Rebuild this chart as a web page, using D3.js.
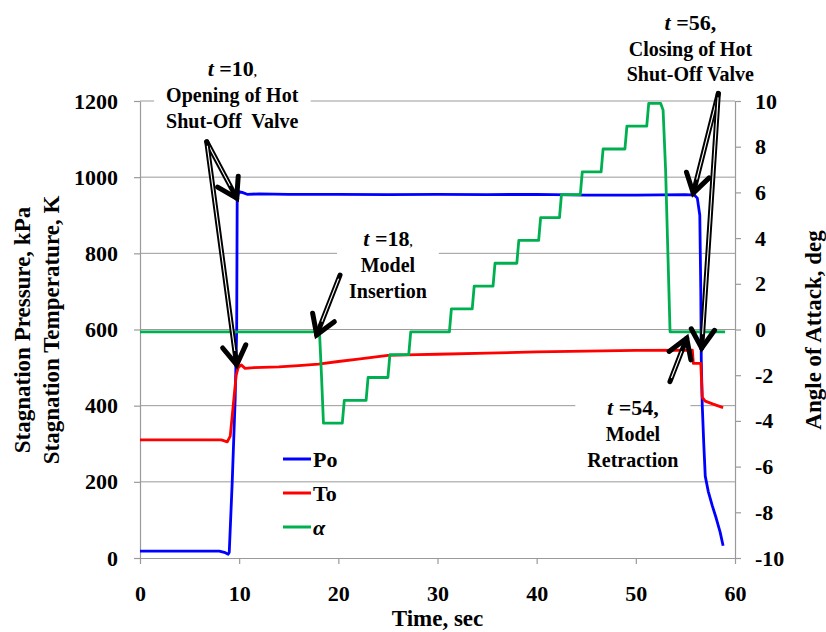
<!DOCTYPE html>
<html>
<head>
<meta charset="utf-8">
<script src="https://cdn.jsdelivr.net/npm/d3@7"></script>
<style>
  body { margin: 0; background: #fff; }
  svg text { font-family: "Liberation Serif", "Times New Roman", serif; font-weight: bold; }
</style>
</head>
<body>
<div id="vis"></div>
<script>

const FRAME_WIDTH = 826;
const FRAME_HEIGHT = 632;
const MARGINS = {left: 140, right: 91, top: 101, bottom: 74};

// axis ticks
const X_TICKS = [0, 10, 20, 30, 40, 50, 60];
const LEFT_TICKS = [0, 200, 400, 600, 800, 1000, 1200];
const RIGHT_TICKS = [-10, -8, -6, -4, -2, 0, 2, 4, 6, 8, 10];

// stagnation pressure Po, kPa
const PO_TIME  = [0, 8.0, 8.6, 8.9, 9.0, 9.3, 9.6, 9.75, 9.8, 9.95, 10.3, 10.8, 12, 15, 20, 25, 30, 35, 40, 45, 50, 55, 55.9, 56.2, 56.45, 56.55, 56.6, 56.7, 56.85, 57.0, 57.3, 57.7, 58.1, 58.5, 58.8];
const PO_VALUE = [18, 18, 14, 10, 15, 200, 420, 600, 940, 962, 960, 955, 956, 955, 955, 954, 955, 954, 955, 953, 953, 954, 953, 945, 900, 700, 520, 400, 300, 215, 175, 138, 105, 68, 32];

// stagnation temperature To, K
const TO_TIME  = [0, 8.2, 8.8, 9.1, 9.4, 9.7, 9.9, 10.2, 10.6, 11.5, 14, 16, 18, 20, 22, 25, 28, 30, 35, 40, 45, 50, 55.7, 55.8, 56.55, 56.7, 57.0, 57.8, 58.8];
const TO_VALUE = [310, 310, 305, 320, 400, 480, 500, 507, 498, 500, 502, 505, 509, 516, 522, 532, 534, 535, 538, 541, 543, 545, 546, 511, 511, 422, 412, 404, 395];

// angle of attack alpha, deg
const AOA_TIME  = [0, 18.1, 18.3, 18.5, 20.4, 20.6, 22.8, 23.0, 25.0, 25.2, 27.1, 27.3, 31.2, 31.4, 33.5, 33.7, 35.6, 35.8, 38.0, 38.2, 40.2, 40.4, 42.3, 42.5, 44.4, 44.6, 46.5, 46.7, 48.9, 49.1, 51.1, 51.3, 52.5, 52.75, 53.0, 53.45, 59.0];
const AOA_VALUE = [-0.1, -0.1, -2.0, -4.1, -4.1, -3.1, -3.1, -2.1, -2.1, -1.1, -1.1, -0.1, -0.1, 0.9, 0.9, 1.9, 1.9, 2.9, 2.9, 3.9, 3.9, 4.9, 4.9, 5.9, 5.9, 6.9, 6.9, 7.9, 7.9, 8.9, 8.9, 9.9, 9.9, 9.6, 7.0, -0.1, -0.1];

const LEGEND_NAMES = ["Po", "To", "α"];
const COLORS = ["#0000ff", "#ff0000", "#00b050"];

const GRID = "#9a9a9a";

const FRAME = d3.select("#vis")
                .append("svg")
                  .attr("width", FRAME_WIDTH)
                  .attr("height", FRAME_HEIGHT);

const X_SCALE = d3.scaleLinear()
                  .domain([0, 60])
                  .range([MARGINS.left, FRAME_WIDTH - MARGINS.right]);
const Y_LEFT = d3.scaleLinear()
                 .domain([0, 1200])
                 .range([FRAME_HEIGHT - MARGINS.bottom, MARGINS.top]);
const Y_RIGHT = d3.scaleLinear()
                  .domain([-10, 10])
                  .range([FRAME_HEIGHT - MARGINS.bottom, MARGINS.top]);

// gridlines
FRAME.selectAll(".grid")
    .data(LEFT_TICKS.filter(d => d > 0))
    .enter()
    .append("line")
      .attr("x1", X_SCALE(0))
      .attr("x2", X_SCALE(60))
      .attr("y1", d => Y_LEFT(d))
      .attr("y2", d => Y_LEFT(d))
      .attr("stroke", GRID)
      .attr("stroke-width", 1);

// axes
function styleAxis(g) {
  g.selectAll("path").attr("stroke", GRID).attr("stroke-width", 1.2);
  g.selectAll("line").attr("stroke", GRID).attr("stroke-width", 1.2);
  g.selectAll("text")
    .attr("fill", "#000")
    .attr("font-size", "22px");
}

FRAME.append("g")
    .attr("transform", "translate(" + MARGINS.left + ",0)")
    .call(d3.axisLeft(Y_LEFT).tickValues(LEFT_TICKS).tickSize(6).tickSizeOuter(0).tickPadding(16)
            .tickFormat(d => String(d)))
    .call(styleAxis);

FRAME.append("g")
    .attr("transform", "translate(" + (FRAME_WIDTH - MARGINS.right) + ",0)")
    .call(d3.axisRight(Y_RIGHT).tickValues(RIGHT_TICKS).tickSize(6).tickSizeOuter(0).tickPadding(14)
            .tickFormat(d => String(d)))
    .call(styleAxis);

FRAME.append("g")
    .attr("transform", "translate(0," + (FRAME_HEIGHT - MARGINS.bottom) + ")")
    .call(d3.axisBottom(X_SCALE).tickValues(X_TICKS).tickSize(6).tickSizeOuter(0).tickPadding(21)
            .tickFormat(d => String(d)))
    .call(styleAxis);

// axis titles
FRAME.append("text")
    .attr("transform", "translate(30,330) rotate(-90)")
    .attr("text-anchor", "middle")
    .attr("font-size", "23px")
    .text("Stagnation Pressure, kPa");
FRAME.append("text")
    .attr("transform", "translate(59,330) rotate(-90)")
    .attr("text-anchor", "middle")
    .attr("font-size", "23px")
    .text("Stagnation Temperature, K");
FRAME.append("text")
    .attr("transform", "translate(821,330) rotate(-90)")
    .attr("text-anchor", "middle")
    .attr("font-size", "23px")
    .text("Angle of Attack, deg");
FRAME.append("text")
    .attr("x", X_SCALE(30))
    .attr("y", 626)
    .attr("text-anchor", "middle")
    .attr("font-size", "23px")
    .text("Time, sec");

// series
const SERIES = [
  {points: d3.zip(PO_TIME, PO_VALUE), y: Y_LEFT},
  {points: d3.zip(TO_TIME, TO_VALUE), y: Y_LEFT},
  {points: d3.zip(AOA_TIME, AOA_VALUE), y: Y_RIGHT}
];

SERIES.forEach((s, i) => {
  FRAME.append("path")
      .datum(s.points)
      .attr("fill", "none")
      .attr("stroke", COLORS[i])
      .attr("stroke-width", 2.8)
      .attr("stroke-linejoin", "round")
      .attr("d", d3.line().x(d => X_SCALE(d[0])).y(d => s.y(d[1])));
});

// legend
LEGEND_NAMES.forEach((name, i) => {
  const y = 459 + i * 34;
  FRAME.append("line")
      .attr("x1", 283).attr("x2", 311)
      .attr("y1", y).attr("y2", y)
      .attr("stroke", COLORS[i])
      .attr("stroke-width", 3);
  FRAME.append("text")
      .attr("x", 313)
      .attr("y", y + 8)
      .attr("font-size", "22px")
      .attr("font-style", name === "α" ? "italic" : "normal")
      .text(name);
});

// annotations (text anchored in data coords, left axis)
const NOTES = [
  {t: 9.3, v: 1265, time: "10", small: true, lines: ["Opening of Hot", "Shut-Off  Valve"]},
  {t: 25.0, v: 818, time: "18", small: true, lines: ["Model", "Insertion"]},
  {t: 55.5, v: 1387, time: "56", small: false, lines: ["Closing of Hot", "Shut-Off Valve"]},
  {t: 49.7, v: 375, time: "54", small: false, lines: ["Model", "Retraction"]}
];

NOTES.forEach(n => {
  const g = FRAME.append("g");
  const cx = X_SCALE(n.t);
  const y0 = Y_LEFT(n.v);
  const t = g.append("text")
      .attr("x", cx)
      .attr("y", y0)
      .attr("text-anchor", "middle")
      .attr("font-size", "22px");
  t.append("tspan").attr("font-style", "italic").text("t ");
  t.append("tspan").text("=" + n.time);
  t.append("tspan").attr("font-size", n.small ? "12px" : "22px").text(",");
  n.lines.forEach((line, j) => {
    g.append("text")
        .attr("x", cx)
        .attr("y", y0 + 26 + j * 25.5)
        .attr("text-anchor", "middle")
        .attr("font-size", "20px")
        .style("white-space", "pre")
        .text(line);
  });
  const bb = g.node().getBBox();
  g.insert("rect", ":first-child")
      .attr("x", bb.x - 12)
      .attr("y", bb.y - 2)
      .attr("width", bb.width + 24)
      .attr("height", bb.height + 4)
      .attr("fill", "#fff");
});

// arrows: [from t, from value, to t, to value] on the left axis scale
const ARROWS = [
  [6.73, 1093, 9.75, 945],
  [6.73, 1093, 9.75, 507],
  [20.17, 743, 17.82, 586],
  [58.32, 1220, 55.79, 958],
  [58.32, 1220, 56.64, 551],
  [53.44, 463, 55.13, 577]
];

function drawArrow(a) {
  const x1 = X_SCALE(a[0]), y1 = Y_LEFT(a[1]);
  const x2 = X_SCALE(a[2]), y2 = Y_LEFT(a[3]);
  const len = Math.hypot(x2 - x1, y2 - y1);
  const bx = (x1 - x2) / len, by = (y1 - y2) / len;
  const HEAD = 22, ANG = 32 * Math.PI / 180;
  const arm = (s) => [x2 + HEAD * (bx * Math.cos(s * ANG) - by * Math.sin(s * ANG)),
                      y2 + HEAD * (bx * Math.sin(s * ANG) + by * Math.cos(s * ANG))];
  const p1 = arm(1), p2 = arm(-1);
  FRAME.append("line")
      .attr("x1", x1).attr("y1", y1).attr("x2", x2).attr("y2", y2)
      .attr("stroke", "#000").attr("stroke-width", 5).attr("stroke-linecap", "round");
  FRAME.append("line")
      .attr("x1", x1 - bx * 4).attr("y1", y1 - by * 4)
      .attr("x2", x2 + bx * 14).attr("y2", y2 + by * 14)
      .attr("stroke", "#fff").attr("stroke-width", 1.1);
  FRAME.append("path")
      .attr("d", "M" + p1 + "L" + x2 + "," + y2 + "L" + p2)
      .attr("fill", "none")
      .attr("stroke", "#000")
      .attr("stroke-width", 5)
      .attr("stroke-linejoin", "miter")
      .attr("stroke-linecap", "round");
}

ARROWS.forEach(drawArrow);

</script>
</body>
</html>
